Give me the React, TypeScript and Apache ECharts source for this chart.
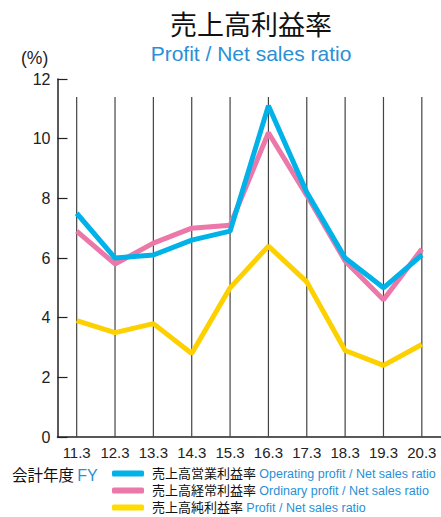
import React, { useEffect, useRef } from "react";
import * as echarts from "echarts";

const categories = ["11.3", "12.3", "13.3", "14.3", "15.3", "16.3", "17.3", "18.3", "19.3", "20.3"];
const operatingRatio = [7.5, 6.0, 6.1, 6.6, 6.9, 11.1, 8.2, 6.0, 5.0, 6.1];
const ordinaryRatio = [6.9, 5.8, 6.5, 7.0, 7.1, 10.2, 8.1, 5.9, 4.6, 6.3];
const netRatio = [3.9, 3.5, 3.8, 2.8, 5.0, 6.4, 5.2, 2.9, 2.4, 3.1];
const gridLineHeight = [11.4, 11.4, 11.4, 11.4, 11.4, 11.4, 11.4, 11.4, 11.4, 11.4];
const seriesNames = ["売上高営業利益率", "売上高経常利益率", "売上高純利益率"];
const seriesEnglish = ["Operating profit / Net sales ratio", "Ordinary profit / Net sales ratio", "Profit / Net sales ratio"];

const FONT = "'Liberation Sans', Arial, 'Noto Sans CJK JP', sans-serif";
const BLUE_TEXT = "#2a8fd6";

export default function App() {
  const ref = useRef<HTMLDivElement>(null);
  useEffect(() => {
    if (!ref.current) return;
    const chart = echarts.init(ref.current, null, { renderer: "svg" });
    chart.setOption({
      animation: false,
      textStyle: { fontFamily: FONT },
      title: {
        text: "売上高利益率",
        subtext: "Profit / Net sales ratio",
        left: 246,
        textAlign: "center",
        top: 7,
        itemGap: 4,
        textStyle: { fontFamily: FONT, fontSize: 27, fontWeight: "normal", color: "#111" },
        subtextStyle: { fontFamily: FONT, fontSize: 21, color: BLUE_TEXT },
      },
      grid: { left: 57.5, right: -2, top: 79, bottom: 80, containLabel: false },
      xAxis: {
        type: "category",
        data: categories,
        boundaryGap: true,
        axisLine: { show: true, lineStyle: { color: "#222", width: 1.5 } },
        axisTick: { show: false },
        axisLabel: { fontFamily: FONT, fontSize: 15, color: "#222", margin: 8 },
        splitLine: { show: false },
      },
      yAxis: {
        type: "value",
        min: 0,
        max: 12,
        interval: 2,
        axisLine: { show: true, lineStyle: { color: "#222", width: 1.5 } },
        axisTick: { show: true, inside: true, length: 10, lineStyle: { color: "#222", width: 1.2 } },
        axisLabel: { fontFamily: FONT, fontSize: 16, color: "#222", margin: 7 },
        splitLine: { show: false },
      },
      legend: {
        orient: "vertical",
        left: 112,
        top: 467,
        padding: 0,
        itemWidth: 32,
        itemHeight: 6,
        itemGap: 4,
        icon: "roundRect",
        data: seriesNames,
        selectedMode: false,
        formatter: (name: string) => {
          const i = seriesNames.indexOf(name);
          return `{a|${name}} {b|${seriesEnglish[i]}}`;
        },
        textStyle: {
          padding: [0, 0, 0, 3],
          rich: {
            a: { fontFamily: FONT, fontSize: 13, color: "#111", lineHeight: 14 },
            b: { fontFamily: FONT, fontSize: 12.5, color: BLUE_TEXT, lineHeight: 14 },
          },
        },
      },
      graphic: [
        {
          type: "text",
          left: 21,
          top: 49,
          style: { text: "(%)", fontFamily: FONT, fontSize: 17.5, fill: "#222" },
        },
        {
          type: "text",
          left: 12,
          top: 467,
          style: {
            text: "{a|会計年度} {b|FY}",
            rich: {
              a: { fontFamily: FONT, fontSize: 15.5, fill: "#111" },
              b: { fontFamily: FONT, fontSize: 16, fill: BLUE_TEXT },
            },
          },
        },
      ],
      series: [
        {
          name: "grid",
          type: "bar",
          data: gridLineHeight,
          barWidth: 1.2,
          silent: true,
          itemStyle: { color: "#444" },
          z: 1,
        },
        {
          name: seriesNames[2],
          type: "line",
          data: netRatio,
          showSymbol: false,
          symbol: "none",
          lineStyle: { color: "#fdd000", width: 5 },
          itemStyle: { color: "#ffdc00" },
          z: 3,
        },
        {
          name: seriesNames[1],
          type: "line",
          data: ordinaryRatio,
          showSymbol: false,
          symbol: "none",
          lineStyle: { color: "#ec78a9", width: 5 },
          itemStyle: { color: "#ec78a9" },
          z: 4,
        },
        {
          name: seriesNames[0],
          type: "line",
          data: operatingRatio,
          showSymbol: false,
          symbol: "none",
          lineStyle: { color: "#00b2e8", width: 5 },
          itemStyle: { color: "#00b2e8" },
          z: 5,
        },
      ],
    });
    return () => chart.dispose();
  }, []);
  return (
    <div
      ref={ref}
      style={{ position: "fixed", left: 0, top: 0, width: 441, height: 517, background: "#fff" }}
    />
  );
}
